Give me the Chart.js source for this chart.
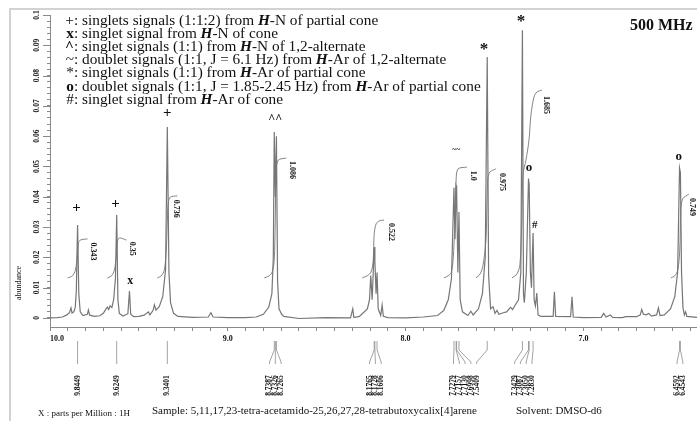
<!DOCTYPE html>
<html><head><meta charset="utf-8">
<script src="https://cdn.jsdelivr.net/npm/chart.js@4.4.1/dist/chart.umd.min.js"></script>
<style>html,body{margin:0;padding:0;background:#fff}canvas{display:block}</style>
</head><body>
<canvas id="c" width="697" height="421"></canvas>
<script>
// ---- DATA ----
const spectrumPpm = [10.00,9.96,9.93,9.905,9.89,9.882,9.876,9.866,9.858,9.852,9.8449,9.838,9.830,9.815,9.790,9.784,9.777,9.75,9.72,9.70,9.685,9.677,9.670,9.662,9.652,9.642,9.632,9.6249,9.618,9.610,9.590,9.562,9.553,9.546,9.530,9.50,9.47,9.447,9.438,9.420,9.413,9.404,9.385,9.366,9.350,9.3401,9.331,9.322,9.305,9.28,9.20,9.11,9.095,9.083,9.00,8.90,8.84,8.80,8.77,8.752,8.744,8.7387,8.7326,8.7265,8.720,8.712,8.697,8.685,8.60,8.45,8.31,8.297,8.291,8.26,8.215,8.203,8.196,8.188,8.1765,8.1728,8.166,8.1606,8.154,8.140,8.132,8.125,8.10,8.00,7.90,7.82,7.785,7.760,7.742,7.7279,7.722,7.7157,7.7130,7.706,7.6998,7.693,7.680,7.650,7.633,7.620,7.590,7.568,7.552,7.5409,7.533,7.522,7.508,7.497,7.486,7.475,7.450,7.432,7.410,7.398,7.386,7.365,7.352,7.3429,7.337,7.332,7.321,7.3087,7.3050,7.298,7.292,7.2830,7.277,7.270,7.262,7.255,7.240,7.170,7.163,7.156,7.072,7.064,7.057,7.00,6.90,6.886,6.872,6.848,6.836,6.78,6.762,6.70,6.680,6.672,6.662,6.648,6.632,6.617,6.588,6.578,6.569,6.545,6.510,6.486,6.470,6.4592,6.4543,6.448,6.440,6.432,6.425,6.418,6.36];
const spectrumAbundance = [0.0000,0.0001,0.0003,0.0010,0.0018,0.0033,0.0016,0.0020,0.0035,0.0090,0.0307,0.0080,0.0020,0.0008,0.0012,0.0026,0.0009,0.0005,0.0007,0.0015,0.0030,0.0036,0.0028,0.0040,0.0034,0.0060,0.0130,0.0340,0.0060,0.0015,0.0006,0.0014,0.0089,0.0012,0.0004,0.0005,0.0009,0.0020,0.0010,0.0025,0.0043,0.0026,0.0038,0.0070,0.0160,0.0630,0.0150,0.0050,0.0015,0.0005,0.0002,0.0003,0.0017,0.0003,0.0001,0.0001,0.0003,0.0012,0.0035,0.0080,0.0200,0.0614,0.0400,0.0600,0.0120,0.0030,0.0012,0.0005,-0.0002,0.0001,0.0000,0.0030,0.0001,0.0005,0.0030,0.0060,0.0140,0.0060,0.0234,0.0190,0.0080,0.0150,0.0030,0.0008,0.0043,0.0005,0.0001,0.0000,0.0003,0.0008,0.0025,0.0060,0.0130,0.0430,0.0260,0.0436,0.0430,0.0150,0.0350,0.0060,0.0020,0.0008,0.0022,0.0010,0.0030,0.0080,0.0200,0.0861,0.0140,0.0030,0.0037,0.0015,0.0025,0.0012,0.0017,0.0020,0.0035,0.0028,0.0040,0.0060,0.0150,0.0950,0.0080,0.0050,0.0150,0.0460,0.0440,0.0150,0.0100,0.0280,0.0060,0.0040,0.0082,0.0010,0.0005,0.0005,0.0086,0.0005,0.0004,0.0070,0.0003,0.0001,0.0002,0.0015,0.0003,0.0010,0.0002,0.0001,0.0004,0.0004,0.0010,0.0028,0.0012,0.0010,0.0015,0.0006,0.0010,0.0033,0.0008,0.0010,0.0030,0.0070,0.0150,0.0495,0.0480,0.0150,0.0035,0.0010,0.0020,0.0005,0.0002];

// integral curves: [ppm, height] pairs
const integralCurves = [
  [[9.902,0.0132],[9.874,0.0139],[9.857,0.0158],[9.846,0.0208],[9.840,0.0248],[9.829,0.0257],[9.789,0.0261]],
  [[9.677,0.0132],[9.654,0.0139],[9.638,0.0158],[9.626,0.0208],[9.621,0.0251],[9.610,0.0264],[9.570,0.0257]],
  [[9.396,0.0132],[9.374,0.0139],[9.357,0.0158],[9.346,0.0224],[9.340,0.0323],[9.334,0.0383],[9.323,0.0399],[9.284,0.0403]],
  [[8.795,0.0132],[8.767,0.0139],[8.750,0.0152],[8.739,0.0191],[8.733,0.0323],[8.728,0.0488],[8.716,0.0521],[8.671,0.0528]],
  [[8.244,0.0132],[8.216,0.0139],[8.194,0.0152],[8.182,0.0191],[8.177,0.0274],[8.166,0.0310],[8.149,0.0320],[8.121,0.0323]],
  [[7.784,0.0132],[7.761,0.0139],[7.744,0.0149],[7.733,0.0191],[7.722,0.0323],[7.716,0.0455],[7.705,0.0492],[7.655,0.0498]],
  [[7.604,0.0132],[7.581,0.0145],[7.565,0.0172],[7.548,0.0257],[7.542,0.0389],[7.537,0.0462],[7.525,0.0482],[7.492,0.0492]],
  [[7.402,0.0132],[7.374,0.0145],[7.357,0.0175],[7.346,0.0323],[7.340,0.0472],[7.323,0.0521],[7.306,0.0587],[7.295,0.0670],[7.278,0.0729],[7.261,0.0746],[7.233,0.0752]],
  [[6.508,0.0132],[6.486,0.0139],[6.469,0.0158],[6.458,0.0224],[6.452,0.0356],[6.441,0.0393],[6.407,0.0409]]
];
const integralTexts = ['0.343','0.35','0.736','1.086','0.522','1.0','0.975','1.685','0.749'];
const integralTextAt = [[9.756,0.0219],[9.537,0.0228],[9.289,0.0360],[8.638,0.0488],[8.081,0.0284],[7.621,0.0469],[7.458,0.0449],[7.211,0.0703],[6.390,0.0366]];

const peakLabelGroups = [[9.8449],[9.6249],[9.3401],[8.7387,8.7326,8.7265],[8.1765,8.1728,8.1606],[7.7279,7.7157,7.7130,7.6998,7.5409],[7.3429,7.3087,7.3050,7.2830],[6.4592,6.4543]];

const peakMarkText = ['+','+','+','x','^^','~~','*','*','o','o','#'];
const peakMarkAt = [[9.851,0.0363],[9.632,0.0376],[9.340,0.0677],[9.548,0.0122],[8.733,0.0667],[7.716,0.0554],[7.559,0.0898],[7.351,0.0993],[7.306,0.0495],[6.463,0.0531],[7.274,0.0307]];

const xTickLabels = [10.0, 9.0, 8.0, 7.0];
const yTickLabels = [0, 0.01, 0.02, 0.03, 0.04, 0.05, 0.06, 0.07, 0.08, 0.09, 0.1];

const legendSymbols = ['+','x','^','~','*','o','#'];
const legendBefore = ['singlets signals (1:1:2) from ','singlet signal from ','singlet signals (1:1) from ','doublet signals (1:1, J = 6.1 Hz) from ','singlet signals (1:1) from ','doublet signals (1:1, J = 1.85-2.45 Hz) from ','singlet signal from '];
const legendAfter = ['-N of partial cone','-N of cone','-N of 1,2-alternate','-Ar of 1,2-alternate','-Ar of partial cone','-Ar of partial cone','-Ar of cone'];

const captionAxis = 'X : parts per Million : 1H';
const captionSample = 'Sample: 5,11,17,23-tetra-acetamido-25,26,27,28-tetrabutoxycalix[4]arene';
const captionSolvent = 'Solvent: DMSO-d6';
const fieldText = '500 MHz';
const yTitle = 'abundance';

// ---- LAYOUT / STYLE ----
const X_MIN = 6.361, X_MAX = 10.0, Y_MIN = -0.003, Y_MAX = 0.1;
const LINE = '#767676', AXIS = '#8a8a8a';
const SERIF = '"Liberation Serif","DejaVu Serif",serif';
const LEG_FONT = '15.3px ';
const labelSpacing = 5.8;
const labelShift = [0,0,0,0,0,2.5,-5,0];
const xMinorTicks = []; for (let k = 64; k <= 100; k++) xMinorTicks.push(k/10);
const yMinorTicks = []; for (let k = 0; k <= 50; k++) yMinorTicks.push(k/500);

const datasets = [{
  data: spectrumPpm.map((p,i)=>({x:p, y:spectrumAbundance[i]})),
  borderColor: LINE, borderWidth: 1.2, pointRadius: 0, showLine: true, tension: 0
}];
integralCurves.forEach(c => datasets.push({
  data: c.map(q=>({x:q[0], y:q[1]})), borderColor: LINE, borderWidth: 0.9,
  pointRadius: 0, showLine: true, tension: 0.3, clip: false
}));

const annot = {
  id: 'annot',
  afterDraw(chart) {
    const ctx = chart.ctx, xs = chart.scales.x, ys = chart.scales.y;
    const ca = chart.chartArea;
    ctx.save();
    // frame
    ctx.strokeStyle = '#d2d2d2'; ctx.lineWidth = 2;
    ctx.beginPath(); ctx.moveTo(10, 421); ctx.lineTo(10, 9); ctx.lineTo(697, 9); ctx.stroke();

    // major y ticks (longer)
    ctx.strokeStyle = AXIS; ctx.lineWidth = 1;
    yTickLabels.forEach(v => {
      const y = Math.round(ys.getPixelForValue(v)) + 0.5;
      ctx.beginPath(); ctx.moveTo(ca.left - 7, y); ctx.lineTo(ca.left, y); ctx.stroke();
    });

    // y tick labels
    ctx.fillStyle = '#111';
    ctx.font = 'bold 7.5px ' + SERIF;
    ctx.textAlign = 'center'; ctx.textBaseline = 'middle';
    yTickLabels.forEach(v => {
      const y = ys.getPixelForValue(v);
      ctx.save(); ctx.translate(37, y); ctx.rotate(-Math.PI/2);
      ctx.fillText(v === 0 ? '0' : String(v), 0, 0); ctx.restore();
    });
    // y title
    ctx.font = '8px ' + SERIF;
    ctx.save(); ctx.translate(19, 283); ctx.rotate(-Math.PI/2); ctx.fillText(yTitle, 0, 0); ctx.restore();

    // x tick labels
    ctx.font = 'bold 8px ' + SERIF; ctx.textBaseline = 'middle';
    xTickLabels.forEach(v => {
      const x = xs.getPixelForValue(v);
      ctx.textAlign = (v === X_MAX) ? 'left' : 'center';
      ctx.fillText(v.toFixed(1), x, 339);
    });

    // peak label forks + texts
    ctx.strokeStyle = '#8c8c8c'; ctx.lineWidth = 0.8;
    ctx.font = 'bold 7.5px ' + SERIF;
    peakLabelGroups.forEach((g, gi) => {
      const px = g.map(p => xs.getPixelForValue(p));
      const mean = px.reduce((a,b)=>a+b,0)/px.length;
      g.forEach((p, i) => {
        const lx = (g.length === 1) ? px[i] : mean + (i - (g.length-1)/2)*labelSpacing + labelShift[gi];
        ctx.beginPath(); ctx.moveTo(px[i], 341); ctx.lineTo(px[i], 350); ctx.lineTo(lx, 362); ctx.lineTo(lx, 364); ctx.stroke();
        ctx.save(); ctx.translate(lx, 385.5); ctx.rotate(-Math.PI/2);
        ctx.textAlign = 'center'; ctx.textBaseline = 'middle';
        ctx.fillText(p.toFixed(4), 0, 0); ctx.restore();
      });
    });

    // integral values (rotated clockwise)
    ctx.font = 'bold 8px ' + SERIF;
    integralTexts.forEach((t, i) => {
      const x = xs.getPixelForValue(integralTextAt[i][0]);
      const y = ys.getPixelForValue(integralTextAt[i][1]);
      ctx.save(); ctx.translate(x, y); ctx.rotate(Math.PI/2);
      ctx.textAlign = 'center'; ctx.textBaseline = 'middle';
      ctx.fillText(t, 0, 0); ctx.restore();
    });

    // peak marks
    const markFont = {'+':'bold 15px ','x':'bold 12px ','^^':'bold 12px ','~~':'bold 8px ','*':'bold 17px ','o':'bold 13px ','#':'bold 11px '};
    const markDy = {'*':4, '^^':3};
    peakMarkText.forEach((t, i) => {
      const x = xs.getPixelForValue(peakMarkAt[i][0]);
      const y = ys.getPixelForValue(peakMarkAt[i][1]);
      ctx.font = markFont[t] + SERIF; ctx.textAlign = 'center'; ctx.textBaseline = 'middle';
      ctx.fillText(t, x, y + (markDy[t] || 0));
    });

    // legend block
    ctx.textBaseline = 'alphabetic';
    legendSymbols.forEach((s, i) => {
      const y = 25 + i*13.1;
      const bold = (s === 'x' || s === 'o' || s === '^');
      ctx.font = (bold ? 'bold ' : '') + LEG_FONT + SERIF;
      ctx.textAlign = 'right'; ctx.fillText(s, 74, y);
      ctx.textAlign = 'left';
      ctx.font = LEG_FONT + SERIF;
      let x = 74;
      const seg1 = ': ' + legendBefore[i];
      ctx.fillText(seg1, x, y); x += ctx.measureText(seg1).width;
      ctx.font = 'italic bold ' + LEG_FONT + SERIF;
      ctx.fillText('H', x, y); x += ctx.measureText('H').width;
      ctx.font = LEG_FONT + SERIF;
      ctx.fillText(legendAfter[i], x, y);
    });

    // 500 MHz
    ctx.font = 'bold 16px ' + SERIF; ctx.textAlign = 'left';
    ctx.fillText(fieldText, 630, 30);

    // captions
    ctx.font = '9px ' + SERIF;
    ctx.fillText(captionAxis, 38, 416);
    ctx.font = '11px ' + SERIF;
    ctx.fillText(captionSample, 152, 414);
    ctx.fillText(captionSolvent, 516, 414);
    ctx.restore();
  }
};

new Chart(document.getElementById('c').getContext('2d'), {
  type: 'scatter',
  data: { datasets },
  options: {
    responsive: false, animation: false, devicePixelRatio: 1,
    layout: { padding: { top: 15, left: 0, right: 0, bottom: 0 } },
    plugins: { legend: { display: false }, tooltip: { enabled: false } },
    scales: {
      x: {
        type: 'linear', reverse: true, min: X_MIN, max: X_MAX,
        afterBuildTicks: s => { s.ticks = xMinorTicks.map(v => ({ value: v })); },
        afterFit: s => { s.height = 94; },
        ticks: { display: false },
        grid: { drawOnChartArea: false, tickLength: 4, color: AXIS, tickColor: AXIS },
        border: { color: AXIS, width: 1 }
      },
      y: {
        type: 'linear', min: Y_MIN, max: Y_MAX,
        afterBuildTicks: s => { s.ticks = yMinorTicks.map(v => ({ value: v })); },
        afterFit: s => { s.width = 50; },
        ticks: { display: false },
        grid: { drawOnChartArea: false, tickLength: 3, color: AXIS, tickColor: AXIS },
        border: { color: AXIS, width: 1 }
      }
    }
  },
  plugins: [annot]
});
</script>
</body></html>
